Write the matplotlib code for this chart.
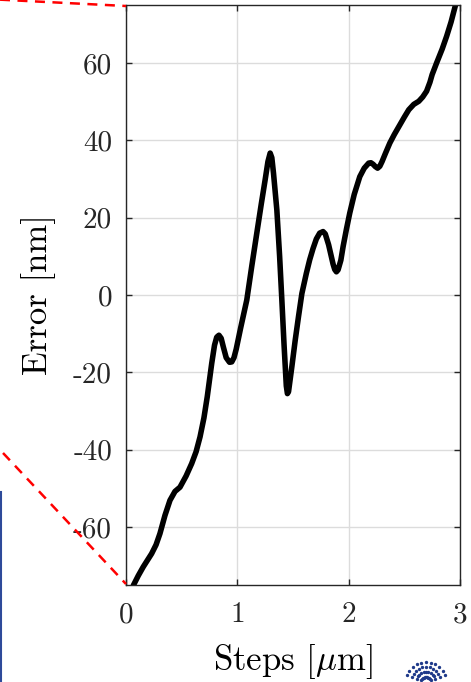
import numpy as np
import matplotlib
matplotlib.use("Agg")
import matplotlib.pyplot as plt
from matplotlib.lines import Line2D

# values
steps = [0.066, 0.11, 0.155, 0.23, 0.27, 0.305, 0.35, 0.395, 0.44, 0.485,
         0.54, 0.59, 0.63, 0.665, 0.70, 0.73, 0.77, 0.795, 0.815, 0.835,
         0.855, 0.875, 0.90, 0.93, 0.95, 0.97, 0.99, 1.03, 1.085, 1.13,
         1.175, 1.215, 1.25, 1.275, 1.295, 1.31, 1.325, 1.355, 1.38, 1.40,
         1.42, 1.44, 1.45, 1.46, 1.49, 1.52, 1.55, 1.58, 1.62, 1.65,
         1.68, 1.71, 1.74, 1.77, 1.79, 1.82, 1.84, 1.86, 1.875, 1.89,
         1.905, 1.93, 1.95, 1.98, 2.01, 2.05, 2.10, 2.14, 2.18, 2.20,
         2.22, 2.24, 2.26, 2.28, 2.30, 2.33, 2.37, 2.41, 2.45, 2.50,
         2.54, 2.585, 2.63, 2.665, 2.70, 2.73, 2.75, 2.79, 2.84, 2.88,
         2.92, 2.96]
error = [-75.1, -72.6, -70.3, -66.9, -64.6, -61.7, -57.0, -53.1, -50.8, -49.7,
         -46.8, -43.6, -40.5, -36.7, -31.8, -26.3, -17.7, -13.0, -10.9, -10.4,
         -11.2, -13.5, -16.2, -17.4, -17.3, -16.2, -14.0, -8.5, -1.3, 7.5,
         16.0, 23.5, 29.8, 34.5, 36.7, 35.5, 31.5, 22.0, 10.0, -1.3,
         -13.0, -23.5, -25.5, -25.0, -18.5, -11.7, -5.5, 0.4, 5.6, 9.1,
         12.0, 14.5, 16.0, 16.4, 15.8, 13.0, 10.5, 8.0, 6.6, 6.0,
         6.5, 9.0, 12.5, 17.0, 21.2, 26.0, 30.6, 32.8, 34.1, 34.2,
         33.8, 33.2, 32.8, 33.3, 34.5, 36.6, 39.3, 41.5, 43.5, 46.0,
         47.9, 49.3, 50.1, 51.2, 52.7, 55.0, 57.0, 60.0, 63.6, 66.9,
         70.6, 75.0]
xticks = [0, 1, 2, 3]
yticks = [-60, -40, -20, 0, 20, 40, 60]

plt.rcParams['font.family'] = 'serif'
plt.rcParams['font.serif'] = ['cmr10']
plt.rcParams['mathtext.fontset'] = 'cm'

fig = plt.figure(figsize=(4.71, 6.82), dpi=100)
ax = fig.add_axes([0.2675, 0.1422, 0.7091, 0.8505])

ax.plot(steps, error, color='black', linewidth=4.0, solid_joinstyle='round',
        solid_capstyle='round')
ax.set_xlim(0, 3)
ax.set_ylim(-75, 75)
ax.set_xticks(xticks)
ax.set_xticklabels([str(t) for t in xticks])
ax.set_yticks(yticks)
ax.set_yticklabels([str(t) for t in yticks])
ax.grid(True, color='#dcdcdc', linewidth=1.0)
ax.tick_params(direction='in', length=4, width=1, top=True, right=True,
               labelsize=21, colors='#262626')
ax.tick_params(axis='x', pad=12)
ax.tick_params(axis='y', pad=10)
for s in ax.spines.values():
    s.set_color('#262626')
    s.set_linewidth(1.0)
ax.set_xlabel(r'Steps [$\mu$m]', fontsize=25, labelpad=10)
ax.set_ylabel('Error [nm]', fontsize=25, labelpad=12)

# red dashed zoom-indicator lines
fig.add_artist(Line2D([0.0, 0.2675], [1.0005, 0.9912], color='red', lw=1.8,
                      linestyle=(0, (4, 3))))
fig.add_artist(Line2D([0.0064, 0.2675], [0.3358, 0.1437], color='red', lw=1.8,
                      linestyle=(0, (4, 3))))
# blue edge at the left
fig.add_artist(Line2D([0.002, 0.002], [0.0, 0.2786], color='#2e4a9a', lw=1.5))

# small logo in the corner
lx, ly = 426 / 471, 0.0
for ang in np.linspace(20, 160, 11):
    for r in [5, 10, 15, 20]:
        fig.add_artist(Line2D([lx + r * np.cos(np.radians(ang)) / 471],
                              [ly + r * np.sin(np.radians(ang)) / 682],
                              marker='o', markersize=1.4, color='#1f3a8a',
                              linestyle='none'))

fig.savefig('out.png', dpi=100)
